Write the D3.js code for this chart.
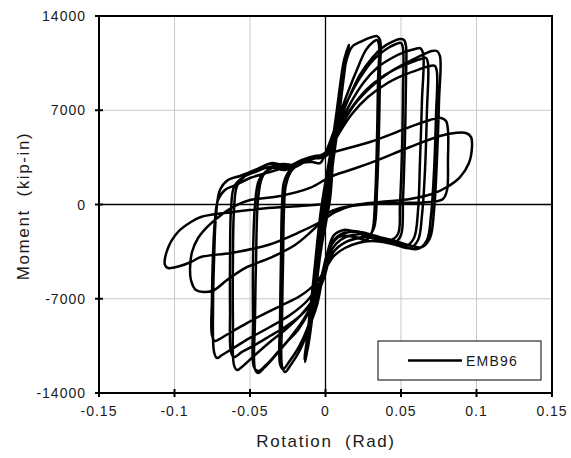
<!DOCTYPE html>
<html><head><meta charset="utf-8">
<script src="https://cdn.jsdelivr.net/npm/d3@7"></script>
<style>
html,body{margin:0;padding:0;background:#fff;}
svg text{font-family:"Liberation Sans",Arial,sans-serif;fill:#1a1a1a;white-space:pre;}
</style></head>
<body><svg id="chart" width="571" height="458"></svg>
<script>
// ---- axis ticks ----
const rotTicks = [-0.15, -0.1, -0.05, 0, 0.05, 0.1, 0.15];
const rotTickLabels = ["-0.15", "-0.1", "-0.05", "0", "0.05", "0.1", "0.15"];
const momTicks = [-14000, -7000, 0, 7000, 14000];
const momTickLabels = ["-14000", "-7000", "0", "7000", "14000"];
const xTitle = "Rotation  (Rad)";
const yTitle = "Moment  (kip-in)";
const seriesName = "EMB96";

// ---- hysteresis data: [rotation (rad), moment (kip-in)] ----
const elastic1 = [[0,0],[0.0022,1800],[0.0042,3600],[0.0035,3300],[0.0018,1800],[-0.0008,0],[-0.0026,-1800],[-0.0042,-3500],[-0.0034,-3200],[-0.0016,-1800],[0.0008,0]];
const elastic2 = [[0.0028,1900],[0.0052,4000],[0.0068,5600],[0.0058,5200],[0.0032,3200],[-0.0008,0],[-0.0032,-2400],[-0.0058,-4800],[-0.0066,-5600],[-0.0056,-5100],[-0.0028,-2600],[0.0008,0]];
const elastic3 = [[0.0036,3000],[0.0072,6200],[0.0092,7800],[0.0080,7200],[0.0044,4400],[-0.0008,0],[-0.0042,-3400],[-0.0076,-6600],[-0.0090,-7800],[-0.0078,-7200],[-0.0040,-3800],[0.0010,0]];
const elastic3b = [[0.0040,2800],[0.0075,6000],[0.0095,7700],[0.0078,7000],[0.0030,3000],[-0.0030,-600],[-0.0060,-3800],[-0.0090,-7000],[-0.0098,-7900],[-0.0080,-7100],[-0.0030,-3000],[0.0025,300]];
const elastic4 = [[0.0050,4300],[0.0095,8200],[0.0120,9800],[0.0105,9200],[0.0060,5600],[-0.0010,0],[-0.0058,-4800],[-0.0100,-8600],[-0.0118,-9900],[-0.0102,-9200],[-0.0054,-5000],[0.0012,0]];
const elastic4b = [[0.0060,4000],[0.0100,7800],[0.0125,9900],[0.0102,9000],[0.0040,4000],[-0.0030,-500],[-0.0070,-4600],[-0.0110,-8800],[-0.0122,-10000],[-0.0098,-8800],[-0.0030,-3200],[0.0030,400]];
const elastic5 = [[0.0060,5200],[0.0110,9400],[0.0140,11300],[0.0122,10700],[0.0068,6400],[-0.0012,0],[-0.0068,-5800],[-0.0115,-10000],[-0.0132,-11300],[-0.0116,-10600],[-0.0060,-5600],[0.0014,0]];
const elastic5b = [[0.0070,5000],[0.0115,9200],[0.0145,11400],[0.0118,10300],[0.0050,5000],[-0.0030,-400],[-0.0080,-5600],[-0.0125,-10200],[-0.0140,-11500],[-0.0112,-10100],[-0.0040,-4000],[0.0030,500]];
const elastic6 = [[0.0064,5600],[0.0118,10000],[0.0150,11700],[0.0156,11850],[0.0132,11000],[0.0074,6600],[-0.0014,0],[-0.0072,-6200],[-0.0120,-10400],[-0.0136,-11700],[-0.0120,-10800],[-0.0064,-6000],[0.0014,0]];
const elastic6b = [[0.0050,3600],[0.0090,7200],[0.0125,10200],[0.0148,11500],[0.0154,11700],[0.0138,11300],[0.0100,8600],[0.0055,4600],[0.0005,300],[-0.0050,-3800],[-0.0095,-8000],[-0.0125,-10600],[-0.0134,-11400],[-0.0118,-10400],[-0.0080,-7200],[-0.0030,-2600],[0.0015,500]];
const elastic6c = [[0.0068,4600],[0.0105,8000],[0.0135,10600],[0.0152,11600],[0.0140,11400],[0.0108,9200],[0.0068,5600],[0.0020,1200],[-0.0040,-3600],[-0.0085,-7800],[-0.0118,-10600],[-0.0128,-11200],[-0.0110,-10200],[-0.0065,-6400],[-0.0010,-1600],[0.0030,1200]];

const cycle7a = [[0.0050,4050],[0.0096,7760],[0.0136,10580],[0.0175,11700],[0.0242,12140],[0.0308,12440],[0.0341,12510],[0.0361,12220],[0.0361,9990],[0.0354,5530],[0.0341,1080],[0.0321,-1750],[0.0281,-2340],[0.0202,-2040],[0.0123,-1890],[0.0056,-2270],[0.0017,-3380],[-0.0017,-5240],[-0.0056,-7460],[-0.0103,-8950],[-0.0169,-10810],[-0.0235,-11990],[-0.0268,-12440],[-0.0288,-11990],[-0.0288,-8580],[-0.0281,-4120],[-0.0275,-410],[-0.0262,1450],[-0.0222,2560],[-0.0156,3080],[-0.0089,3160],[-0.0036,3080]];
const cycle7b = [[0.0003,3900],[0.0063,5680],[0.0129,7760],[0.0202,9840],[0.0268,11480],[0.0315,12070],[0.0341,12220],[0.0354,11850],[0.0348,9250],[0.0341,4790],[0.0328,330],[0.0308,-2040],[0.0268,-2640],[0.0195,-2410],[0.0109,-2340],[0.0043,-2780],[0.0003,-3970],[-0.0036,-5980],[-0.0089,-8210],[-0.0169,-10430],[-0.0242,-11700],[-0.0281,-12220],[-0.0301,-11850],[-0.0301,-8580],[-0.0295,-4120],[-0.0288,-40],[-0.0275,1670],[-0.0235,2560],[-0.0169,3080],[-0.0089,3450],[-0.0036,3450]];
const cycle8a = [[0.0017,4050],[0.0083,5900],[0.0149,7760],[0.0228,9620],[0.0308,10880],[0.0374,11620],[0.0440,12070],[0.0493,12290],[0.0520,12220],[0.0533,11770],[0.0533,9250],[0.0526,4790],[0.0513,330],[0.0500,-2270],[0.0454,-2860],[0.0374,-2640],[0.0281,-2190],[0.0175,-1970],[0.0083,-2340],[0.0030,-3080],[-0.0003,-4270],[-0.0050,-6350],[-0.0103,-7840],[-0.0182,-9320],[-0.0255,-10210],[-0.0334,-11250],[-0.0407,-12140],[-0.0447,-12510],[-0.0467,-12220],[-0.0467,-8580],[-0.0460,-4120],[-0.0447,330],[-0.0421,1970],[-0.0368,2710],[-0.0281,3010],[-0.0202,2930],[-0.0123,3380],[-0.0050,3600]];
const cycle8b = [[0.0003,3900],[0.0070,5680],[0.0142,7610],[0.0228,9400],[0.0315,10730],[0.0394,11480],[0.0467,11920],[0.0500,12000],[0.0513,11620],[0.0513,8500],[0.0507,4050],[0.0493,-40],[0.0480,-2190],[0.0427,-2640],[0.0334,-2340],[0.0228,-2040],[0.0129,-2120],[0.0063,-2640],[0.0017,-3530],[-0.0023,-5240],[-0.0076,-7090],[-0.0156,-8730],[-0.0235,-9910],[-0.0315,-10950],[-0.0394,-11920],[-0.0447,-12370],[-0.0474,-12070],[-0.0480,-8580],[-0.0480,-4120],[-0.0467,-40],[-0.0440,1820],[-0.0381,2560],[-0.0301,2860],[-0.0202,2790],[-0.0116,3310],[-0.0050,3530]];
const cycle9a = [[0.0017,4050],[0.0083,5680],[0.0162,7460],[0.0255,9100],[0.0348,10210],[0.0440,10880],[0.0526,11330],[0.0593,11550],[0.0626,11620],[0.0646,11250],[0.0639,7760],[0.0626,3310],[0.0613,-410],[0.0586,-2490],[0.0533,-3080],[0.0440,-2780],[0.0334,-2340],[0.0228,-2190],[0.0136,-2410],[0.0070,-2930],[0.0023,-3750],[-0.0017,-5240],[-0.0076,-6940],[-0.0169,-8280],[-0.0268,-9320],[-0.0368,-10210],[-0.0467,-11180],[-0.0546,-11990],[-0.0586,-12290],[-0.0606,-11920],[-0.0613,-8580],[-0.0613,-4120],[-0.0606,-410],[-0.0586,1370],[-0.0533,2120],[-0.0447,2640],[-0.0354,3080],[-0.0248,2860],[-0.0156,3310],[-0.0070,3600]];
const cycle9b = [[0.0003,3750],[0.0076,5380],[0.0162,7020],[0.0268,8500],[0.0374,9470],[0.0480,10140],[0.0573,10580],[0.0632,10810],[0.0666,10880],[0.0679,10440],[0.0672,7020],[0.0659,2560],[0.0639,-780],[0.0613,-2640],[0.0560,-3230],[0.0467,-3010],[0.0361,-2640],[0.0255,-2410],[0.0162,-2640],[0.0083,-3160],[0.0030,-3970],[-0.0010,-5460],[-0.0076,-7090],[-0.0169,-8280],[-0.0268,-9100],[-0.0368,-9770],[-0.0467,-10430],[-0.0553,-10950],[-0.0606,-11330],[-0.0626,-10950],[-0.0632,-7840],[-0.0632,-3750],[-0.0626,-410],[-0.0606,1300],[-0.0553,1970],[-0.0467,2410],[-0.0368,2790],[-0.0268,2560],[-0.0169,3080],[-0.0076,3450]];
const cycle10a = [[0.0010,3820],[0.0096,5680],[0.0195,7460],[0.0308,8800],[0.0427,9840],[0.0546,10580],[0.0639,11100],[0.0705,11400],[0.0738,11400],[0.0758,11030],[0.0752,7760],[0.0738,3310],[0.0719,-410],[0.0692,-2490],[0.0639,-3160],[0.0546,-3010],[0.0440,-2640],[0.0334,-2410],[0.0228,-2490],[0.0136,-2780],[0.0063,-3380],[0.0010,-4270],[-0.0036,-5760],[-0.0116,-7090],[-0.0235,-8210],[-0.0368,-9100],[-0.0500,-9910],[-0.0619,-10730],[-0.0685,-11180],[-0.0719,-11400],[-0.0738,-10950],[-0.0745,-7840],[-0.0738,-4120],[-0.0725,-780],[-0.0699,1080],[-0.0646,1820],[-0.0566,2120],[-0.0467,2560],[-0.0368,3010],[-0.0268,2710],[-0.0169,3230],[-0.0076,3530]];
const cycle10b = [[0.0003,3600],[0.0083,5160],[0.0175,6720],[0.0281,7980],[0.0401,8950],[0.0520,9620],[0.0626,10060],[0.0692,10290],[0.0725,10290],[0.0738,9840],[0.0732,6650],[0.0719,2560],[0.0699,-780],[0.0672,-2640],[0.0613,-3300],[0.0520,-3160],[0.0414,-2860],[0.0308,-2710],[0.0215,-2860],[0.0129,-3230],[0.0056,-3820],[0.0003,-4720],[-0.0063,-5830],[-0.0169,-6800],[-0.0301,-7540],[-0.0434,-8280],[-0.0553,-9020],[-0.0646,-9620],[-0.0712,-10060],[-0.0732,-10140],[-0.0752,-9690],[-0.0752,-7090],[-0.0745,-3750],[-0.0732,-1150],[-0.0712,330],[-0.0666,1080],[-0.0593,1450]];
const cycle11 = [[-0.0500,1970],[-0.0368,2410],[-0.0235,2860],[-0.0103,3310],[0.0030,3820],[0.0295,4640],[0.0560,5760],[0.0692,6280],[0.0765,6420],[0.0798,6200],[0.0811,5530],[0.0811,3310],[0.0805,1080],[0.0778,410],[0.0692,190],[0.0493,110],[0.0295,40],[0.0129,-190],[0.0030,-560],[-0.0070,-1750],[-0.0202,-3010],[-0.0368,-3970],[-0.0533,-4720],[-0.0652,-5610],[-0.0752,-6420],[-0.0858,-6350],[-0.0891,-5610],[-0.0897,-4720],[-0.0884,-3530],[-0.0844,-2490],[-0.0778,-1600],[-0.0699,-850],[-0.0599,-110],[-0.0500,330]];
const cycle12 = [[-0.0301,630],[-0.0103,1230],[0.0030,2040],[0.0162,2560],[0.0315,3160],[0.0560,4270],[0.0758,5090],[0.0858,5310],[0.0930,5310],[0.0964,5010],[0.0970,4270],[0.0950,3080],[0.0891,2040],[0.0805,1300],[0.0705,780],[0.0560,410],[0.0361,190],[0.0195,-40],[0.0063,-560],[-0.0036,-1300],[-0.0169,-2040],[-0.0381,-3010],[-0.0626,-3600],[-0.0825,-3900],[-0.0891,-4270],[-0.0964,-4570],[-0.1043,-4720],[-0.1063,-4490],[-0.1043,-3230],[-0.0977,-2040],[-0.0891,-1300],[-0.0825,-930],[-0.0666,-630],[-0.0381,-260],[-0.0169,-110],[-0.0040,0]];

const cycles = [elastic1, elastic2, elastic3, elastic3b, elastic4, elastic4b, elastic5, elastic5b, elastic6, elastic6b, elastic6c,
  cycle7a, cycle7b, cycle8a, cycle8b, cycle9a, cycle9b, cycle10a, cycle10b, cycle11, cycle12];

// ---- layout ----
const svg = d3.select("#chart");
const x = d3.scaleLinear().domain([-0.15, 0.15]).range([99, 552]);
const y = d3.scaleLinear().domain([-14000, 14000]).range([393, 16]);
const [x0, x1] = x.range();
const [y0, y1] = y.range();

// grid
svg.append("g").selectAll("line").data(rotTicks.filter(d => d !== 0 && Math.abs(d) < 0.15))
  .join("line").attr("x1", d => x(d)).attr("x2", d => x(d)).attr("y1", y1).attr("y2", y0)
  .attr("stroke", "#c8c8c8").attr("stroke-width", 1);
svg.append("g").selectAll("line").data(momTicks.filter(d => d !== 0 && Math.abs(d) < 14000))
  .join("line").attr("y1", d => y(d)).attr("y2", d => y(d)).attr("x1", x0).attr("x2", x1)
  .attr("stroke", "#c8c8c8").attr("stroke-width", 1);
// zero lines
svg.append("line").attr("x1", x(0)).attr("x2", x(0)).attr("y1", y1).attr("y2", y0).attr("stroke", "#000").attr("stroke-width", 1.3);
svg.append("line").attr("y1", y(0)).attr("y2", y(0)).attr("x1", x0).attr("x2", x1).attr("stroke", "#000").attr("stroke-width", 1.3);

// data curve
const allPts = [].concat(...cycles);
const line = d3.line().x(d => x(d[0])).y(d => y(d[1])).curve(d3.curveCatmullRom.alpha(0.5));
svg.append("path").attr("d", line(allPts)).attr("fill", "none").attr("stroke", "#000")
  .attr("stroke-width", 2.5).attr("stroke-linejoin", "round").attr("stroke-linecap", "round");

// frame
svg.append("rect").attr("x", x0).attr("y", y1).attr("width", x1 - x0).attr("height", y0 - y1)
  .attr("fill", "none").attr("stroke", "#000").attr("stroke-width", 2);

// ticks (crossing)
svg.append("g").selectAll("line").data(rotTicks).join("line")
  .attr("x1", d => x(d)).attr("x2", d => x(d)).attr("y1", y0 - 4).attr("y2", y0 + 4)
  .attr("stroke", "#000").attr("stroke-width", 2);
svg.append("g").selectAll("line").data(momTicks).join("line")
  .attr("y1", d => y(d)).attr("y2", d => y(d)).attr("x1", x0 - 4).attr("x2", x0 + 4)
  .attr("stroke", "#000").attr("stroke-width", 2);

// tick labels
svg.append("g").selectAll("text").data(rotTicks).join("text")
  .attr("x", d => x(d)).attr("y", 416).attr("text-anchor", "middle")
  .style("font-size", "14px").style("letter-spacing", "1px")
  .text((d, i) => rotTickLabels[i]);
svg.append("g").selectAll("text").data(momTicks).join("text")
  .attr("x", 86).attr("y", d => y(d) + 5).attr("text-anchor", "end")
  .style("font-size", "14px").style("letter-spacing", "1px")
  .text((d, i) => momTickLabels[i]);

// axis titles
svg.append("text").attr("x", 326).attr("y", 447).attr("text-anchor", "middle")
  .style("font-size", "17px").style("letter-spacing", "1.6px").text(xTitle);
svg.append("text").attr("transform", "translate(29,206) rotate(-90)").attr("text-anchor", "middle")
  .style("font-size", "17px").style("letter-spacing", "1.6px").text(yTitle);

// legend
const lg = svg.append("g");
lg.append("rect").attr("x", 378).attr("y", 341).attr("width", 163).attr("height", 39)
  .attr("fill", "#fff").attr("stroke", "#000").attr("stroke-width", 1);
lg.append("line").attr("x1", 408).attr("x2", 462).attr("y1", 360.5).attr("y2", 360.5)
  .attr("stroke", "#000").attr("stroke-width", 2.5);
lg.append("text").attr("x", 466).attr("y", 365.5).style("font-size", "14px").style("letter-spacing", "1.2px").text(seriesName);
</script></body></html>
